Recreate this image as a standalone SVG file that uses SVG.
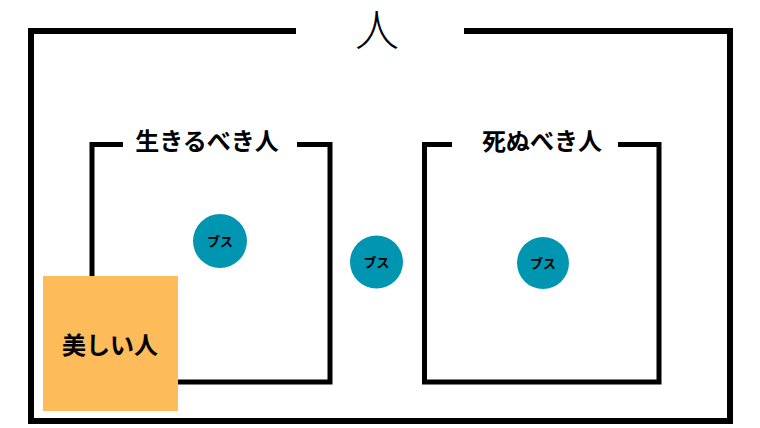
<svg xmlns="http://www.w3.org/2000/svg" width="760" height="428" viewBox="0 0 760 428">
<style>
.frame{fill:none;stroke:#000;stroke-width:6;stroke-linecap:butt;stroke-linejoin:miter}
.box{fill:none;stroke:#000;stroke-width:5;stroke-linejoin:miter}
.lbl{font-family:"Noto Sans CJK JP","Noto Sans",sans-serif;font-weight:bold;font-size:24px;fill:#000;text-anchor:middle}
.busu{fill:#0095B1}
.bt{font-family:"Noto Sans CJK JP","Noto Sans",sans-serif;font-weight:bold;font-size:13px;fill:#000;text-anchor:middle}
</style>
<g id="outer">
<path class="frame" d="M296,31 H31 V421 H730 V31 H464"/>
<text x="377" y="46" style="font-family:'Noto Sans CJK JP',sans-serif;font-weight:300;font-size:44px;text-anchor:middle">人</text>
</g>
<g id="live">
<path class="box" d="M123,144.5 H92 V382 H330 V144.5 H297"/>
<text class="lbl" x="207" y="150">生きるべき人</text>
</g>
<g id="die">
<path class="box" d="M452,144.5 H424.5 V382 H659 V144.5 H618"/>
<text class="lbl" x="542" y="150">死ぬべき人</text>
</g>
<g id="busu1">
<circle class="busu" cx="220" cy="241" r="27"/>
<text class="bt" x="220" y="246">ブス</text>
</g>
<g id="busu2">
<circle class="busu" cx="376.5" cy="262" r="26.5"/>
<text class="bt" x="376.5" y="267">ブス</text>
</g>
<g id="busu3">
<circle class="busu" cx="543" cy="263" r="26"/>
<text class="bt" x="543" y="268">ブス</text>
</g>
<g id="beautiful">
<rect x="43" y="276" width="135" height="135" fill="#FDBB59"/>
<text class="lbl" x="110" y="354">美しい人</text>
</g>
<g id="connectors"></g>
</svg>
